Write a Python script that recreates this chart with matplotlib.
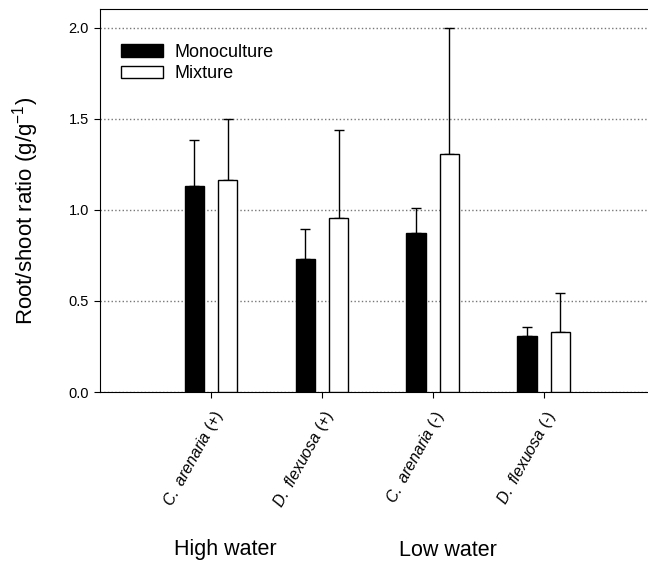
import matplotlib.pyplot as plt
import numpy as np

plt.rcParams['font.family'] = ['Liberation Sans', 'DejaVu Sans']
plt.rcParams['mathtext.fontset'] = 'custom'
plt.rcParams['mathtext.rm'] = 'Liberation Sans'
plt.rcParams['mathtext.it'] = 'Liberation Sans:italic'

species = [r'$\mathit{C.}$ $\mathit{arenaria}$ (+)', r'$\mathit{D.}$ $\mathit{flexuosa}$ (+)',
           r'$\mathit{C.}$ $\mathit{arenaria}$ (-)', r'$\mathit{D.}$ $\mathit{flexuosa}$ (-)']
mono = [1.133, 0.729, 0.875, 0.309]
mono_err = [0.248, 0.163, 0.134, 0.048]
mix = [1.163, 0.954, 1.306, 0.330]
mix_err = [0.337, 0.482, 0.690, 0.212]
groups = ['High water', 'Low water']

fig = plt.figure(figsize=(6.48, 5.63), dpi=100)
ax = fig.add_axes([100 / 648, 0.3037, 1 - 100 / 648, 0.9835 - 0.3037])

x = np.arange(len(species))
w = 0.175
ax.bar(x - 0.15, mono, w, color='black', edgecolor='black', linewidth=1, label='Monoculture', zorder=3)
ax.bar(x + 0.15, mix, w, color='white', edgecolor='black', linewidth=1, label='Mixture', zorder=3)
ax.errorbar(x - 0.15, mono, yerr=[np.zeros(4), mono_err], fmt='none', ecolor='black',
            elinewidth=1, capsize=3.5, capthick=1, zorder=2)
ax.errorbar(x + 0.15, mix, yerr=[np.zeros(4), mix_err], fmt='none', ecolor='black',
            elinewidth=1, capsize=3.5, capthick=1, zorder=2)

ax.set_xlim(-1.0, 3.94)
ax.set_ylim(0, 2.1)
ax.set_yticks([0, 0.5, 1.0, 1.5, 2.0])
ax.set_yticklabels(['0.0', '0.5', '1.0', '1.5', '2.0'], fontsize=10.5)
ax.yaxis.grid(True, linestyle=':', color='#777777', linewidth=1, zorder=0)
ax.set_axisbelow(True)
ax.spines['right'].set_visible(False)

ax.set_xticks(x)
ax.set_xticklabels(species, rotation=61, ha='right', va='top',
                   rotation_mode='anchor', fontsize=11.5)
ax.tick_params(axis='x', length=4, pad=7)
ax.tick_params(axis='y', length=4, pad=4)

ax.set_ylabel(r'Root/shoot ratio (g/g$^{-1}$)', fontsize=16)
ax.yaxis.set_label_coords(-0.108, 0.474)

leg = ax.legend(loc='upper left', frameon=False, fontsize=13, handlelength=2.33,
                handleheight=0.67, handletextpad=0.6, bbox_to_anchor=(0.0094, 0.952),
                labelspacing=0.25, borderpad=0.4)

fig.text(225 / 648, 1 - 550 / 563, groups[0], ha='center', va='center', fontsize=15.5)
fig.text(448 / 648, 1 - 550 / 563, groups[1], ha='center', va='center', fontsize=15.5)

fig.savefig('out.png', dpi=100)
